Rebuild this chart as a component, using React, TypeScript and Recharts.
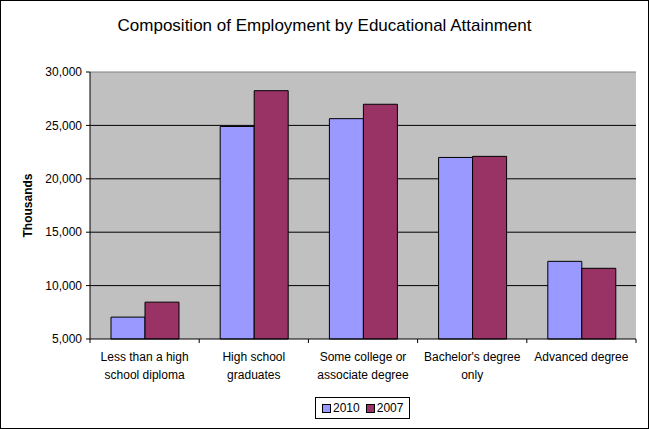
import React from 'react';
import { BarChart, Bar, XAxis, YAxis, CartesianGrid, Legend, ReferenceLine } from 'recharts';

const categories = [
  ['Less than a high', 'school diploma'],
  ['High school', 'graduates'],
  ['Some college or', 'associate degree'],
  ["Bachelor's degree", 'only'],
  ['Advanced degree'],
];
const values2010 = [7050, 24900, 25630, 22000, 12270];
const values2007 = [8450, 28250, 26980, 22100, 11620];
const yTicks = [5000, 10000, 15000, 20000, 25000, 30000];
const seriesNames = ['2010', '2007'];
const colors = ['#9999FF', '#993366'];

const data = categories.map((c, i) => ({
  name: c.join('\n'),
  v2010: values2010[i],
  v2007: values2007[i],
}));

const FONT = 'Arial, "Liberation Sans", sans-serif';
const CHART_W = 647;
const CHART_H = 427;
const MARGIN = { top: 71, right: 12, left: 20, bottom: 0 };
const Y_WIDTH = 69;
const BAND = (CHART_W - MARGIN.left - Y_WIDTH - MARGIN.right) / categories.length;

const XTick = (props: any) => {
  const { x, y, payload, index } = props;
  const lines = String(payload.value).split('\n');
  return (
    <g>
      <line x1={x - BAND / 2} x2={x - BAND / 2} y1={y} y2={y + 4} stroke="#000" />
      {index === categories.length - 1 && (
        <line x1={x + BAND / 2} x2={x + BAND / 2} y1={y} y2={y + 4} stroke="#000" />
      )}
      {lines.map((l, i) => (
        <text key={i} x={x} y={y + 22 + i * 18} textAnchor="middle" fontSize={12} fontFamily={FONT} fill="#000">
          {l}
        </text>
      ))}
    </g>
  );
};

const YLabel = (props: any) => {
  const { viewBox } = props;
  const cx = 31;
  const cy = viewBox.y + viewBox.height / 2;
  return (
    <text x={cx} y={cy} transform={`rotate(-90, ${cx}, ${cy})`} textAnchor="middle" fontSize={12}
      fontWeight="bold" fontFamily={FONT} fill="#000">
      Thousands
    </text>
  );
};

const LegendBox = () => (
  <div style={{ border: '1px solid #000', padding: '3px 6px', display: 'flex', alignItems: 'center',
    fontFamily: FONT, fontSize: 12, background: '#fff' }}>
    {seriesNames.map((s, i) => (
      <span key={s} style={{ display: 'flex', alignItems: 'center', marginRight: i === 0 ? 6 : 0 }}>
        <span style={{ width: 7, height: 7, background: colors[i], border: '1px solid #000', marginRight: 2 }} />
        {s}
      </span>
    ))}
  </div>
);

export default function App() {
  return (
    <div style={{ position: 'absolute', left: 0, top: 0, width: 649, height: 429, boxSizing: 'border-box',
      border: '1px solid #000', background: '#fff' }}>
      <div style={{ position: 'absolute', top: 15, left: 0, width: CHART_W, textAlign: 'center',
        fontFamily: FONT, fontSize: 17, color: '#000' }}>
        Composition of Employment by Educational Attainment
      </div>
      <BarChart width={CHART_W} height={CHART_H} data={data} margin={MARGIN} barGap={0} barSize={34}>
        <CartesianGrid fill="#C0C0C0" vertical={false} stroke="#000" horizontalValues={[10000, 15000, 20000, 25000]} />
        <XAxis dataKey="name" interval={0} height={89} tickSize={0} tickMargin={0} tickLine={false}
          axisLine={{ stroke: '#000' }} tick={<XTick />} />
        <YAxis domain={[5000, 30000]} ticks={yTicks} width={Y_WIDTH} tickSize={4} tickMargin={4}
          axisLine={{ stroke: '#000' }} tickLine={{ stroke: '#000' }}
          tick={{ fontSize: 12, fontFamily: FONT, fill: '#000' }}
          tickFormatter={(v: number) => v.toLocaleString('en-US')}
          label={<YLabel />} />
        <YAxis yAxisId="r" orientation="right" domain={[5000, 30000]} width={0} tick={false}
          tickLine={false} axisLine={{ stroke: '#808080' }} />
        <ReferenceLine y={30000} stroke="#808080" />
        <Bar dataKey="v2010" name="2010" fill={colors[0]} stroke="#000" strokeWidth={1} isAnimationActive={false} />
        <Bar dataKey="v2007" name="2007" fill={colors[1]} stroke="#000" strokeWidth={1} isAnimationActive={false} />
        <Legend verticalAlign="middle" align="center" content={<LegendBox />}
          wrapperStyle={{ position: 'absolute', top: 396, left: 314, width: 'auto' }} />
      </BarChart>
    </div>
  );
}
